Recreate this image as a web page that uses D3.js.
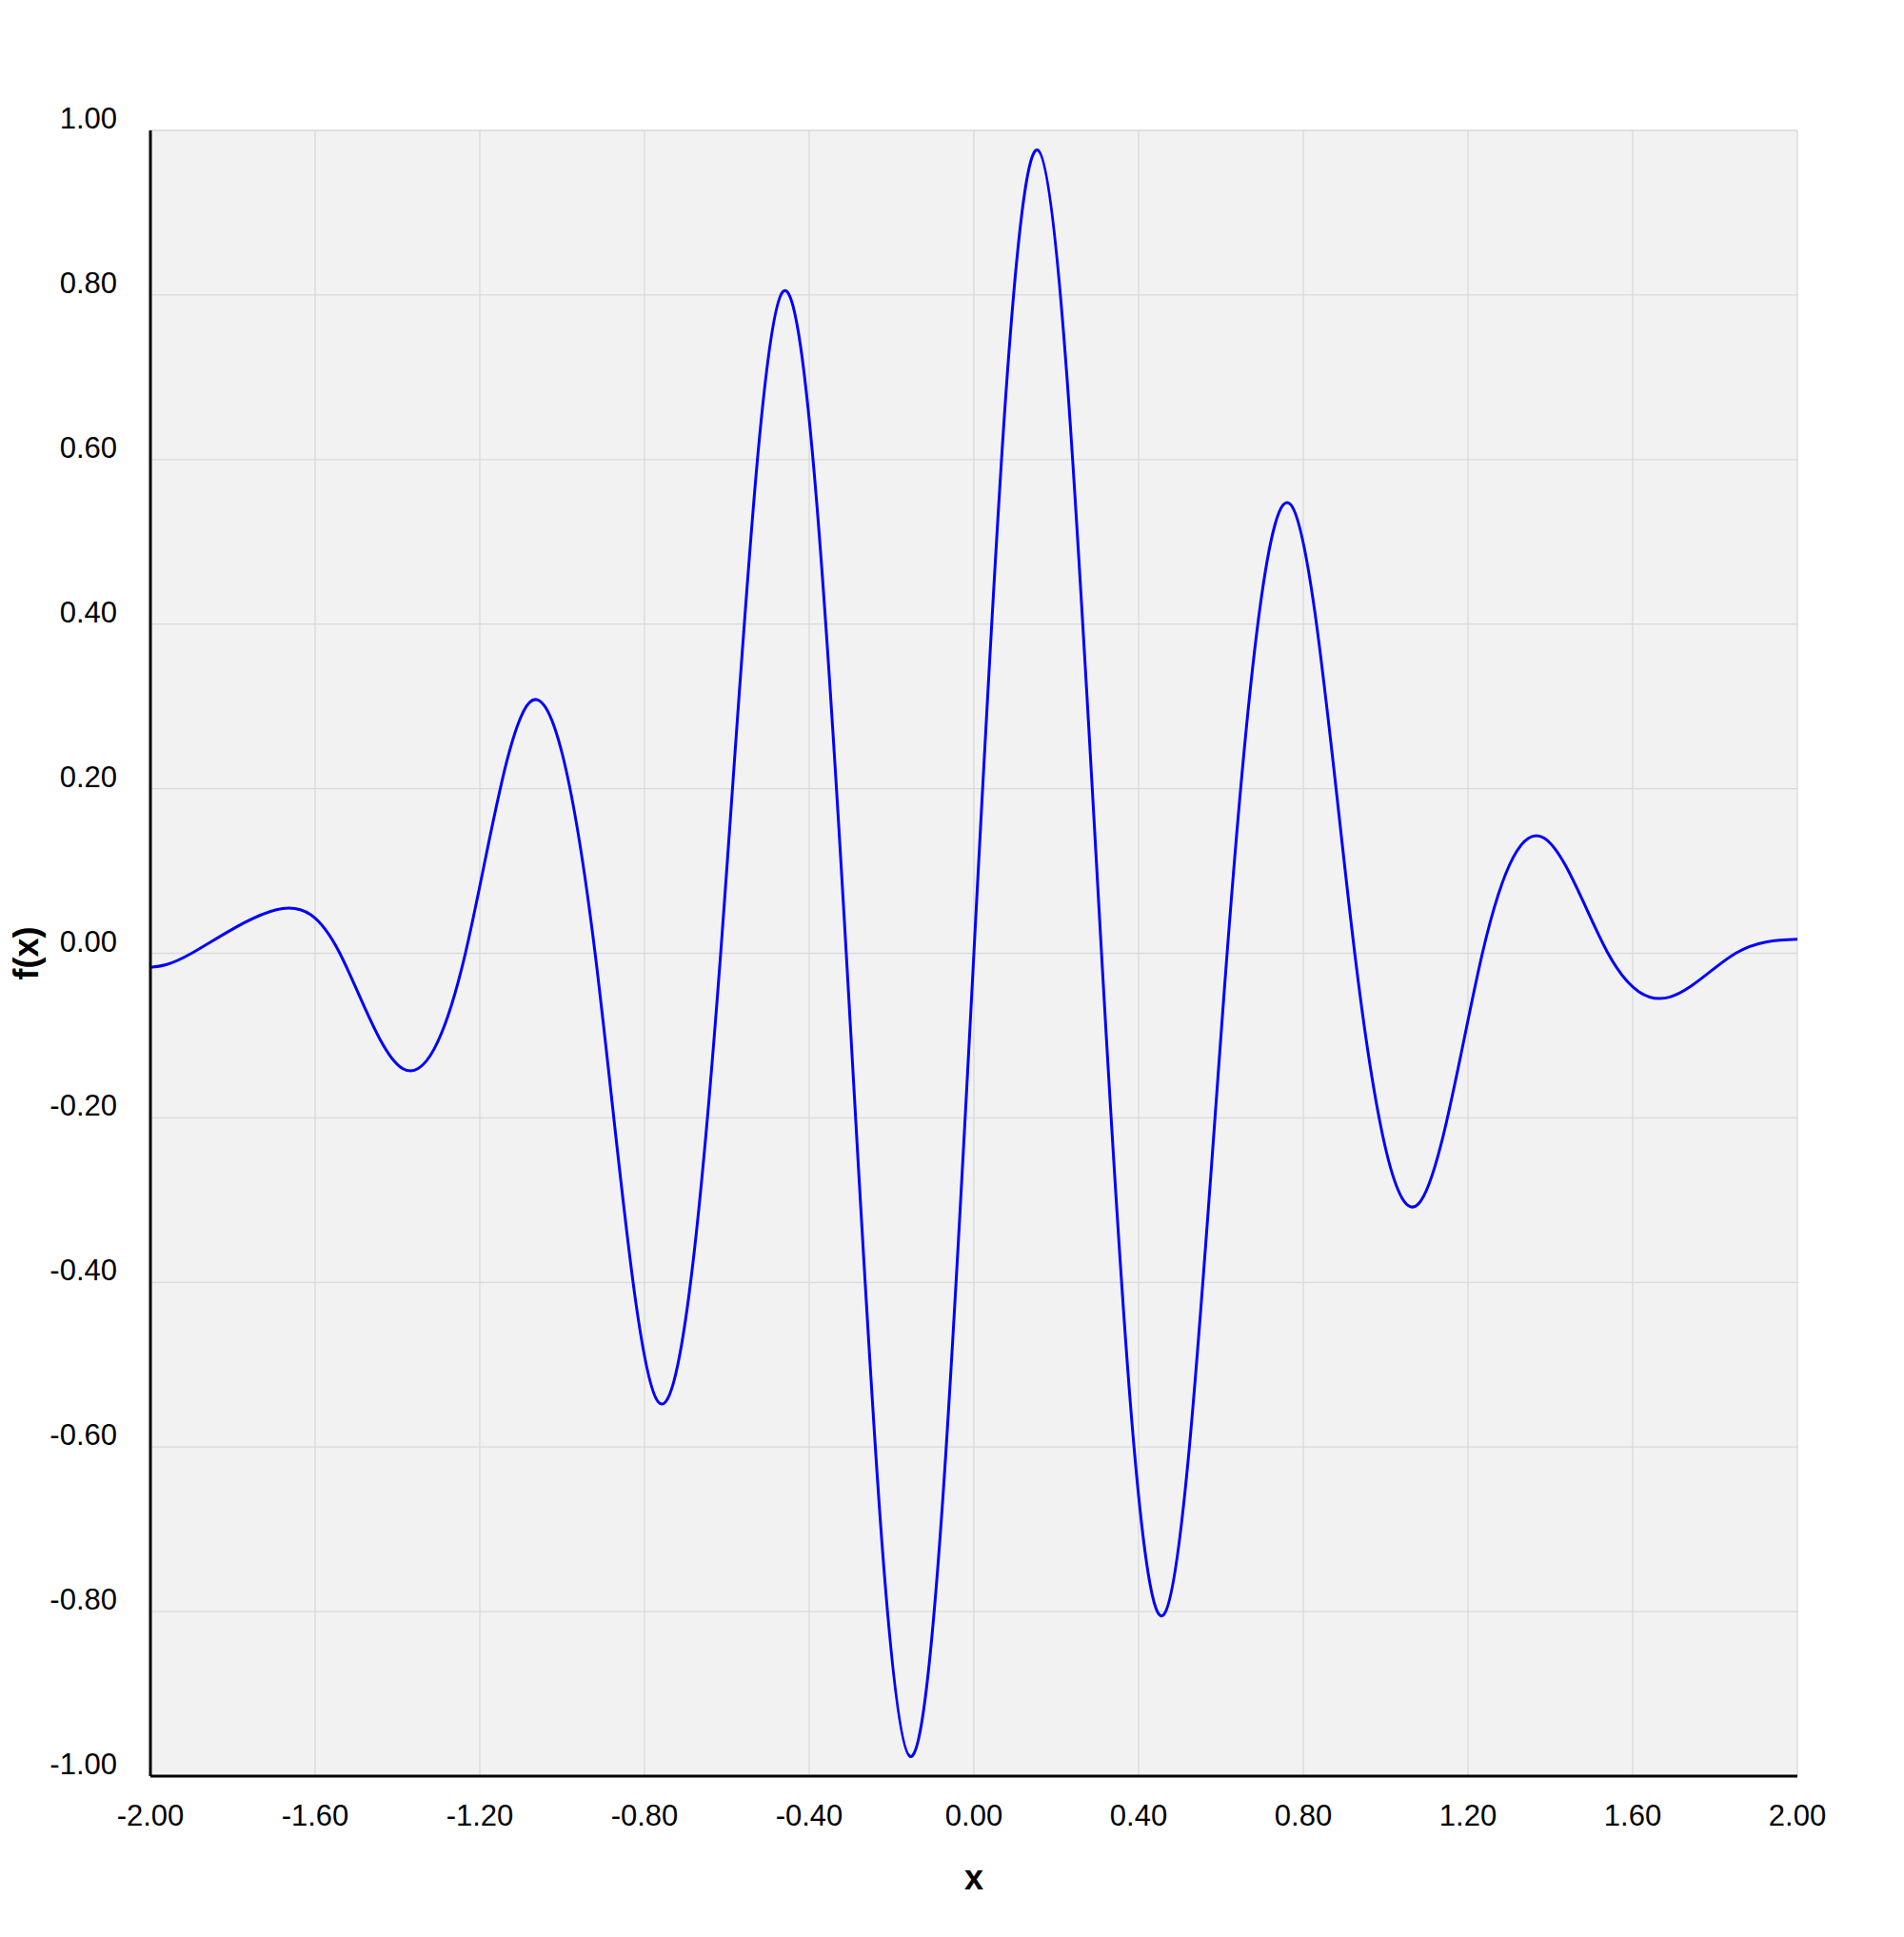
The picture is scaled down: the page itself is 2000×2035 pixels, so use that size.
<!DOCTYPE html>
<html>
<head>
<meta charset="utf-8">
<script src="https://cdn.jsdelivr.net/npm/d3@7"></script>
<style>
  body { margin: 0; background: #fff; }
  text { font-family: "Liberation Sans", Arial, sans-serif; }
</style>
</head>
<body>
<svg id="chart"></svg>
<script>
// points: extrema and zero crossings
const xs = [-2.0, -1.90, -1.694, -1.54, -1.388, -1.235, -1.079, -0.92, -0.767, -0.615, -0.464, -0.31, -0.155, 0.0, 0.155, 0.31, 0.461, 0.615, 0.770, 0.925, 1.079, 1.235, 1.385, 1.54, 1.691, 1.85, 2.0];
const ys = [-0.017, 0.0, 0.053, 0.0, -0.140, 0.0, 0.305, 0.0, -0.545, 0.0, 0.804, 0.0, -0.976, 0.0, 0.976, 0.0, -0.804, 0.0, 0.545, 0.0, -0.305, 0.0, 0.140, 0.0, -0.053, 0.0, 0.017];
const xTicks = [-2, -1.6, -1.2, -0.8, -0.4, 0, 0.4, 0.8, 1.2, 1.6, 2];
const yTicks = [-1, -0.8, -0.6, -0.4, -0.2, 0, 0.2, 0.4, 0.6, 0.8, 1];

const width = 2000, height = 2035;
const margin = { top: 137, right: 112, bottom: 169, left: 158 };
const iw = width - margin.left - margin.right;
const ih = height - margin.top - margin.bottom;

const svg = d3.select('#chart').attr('width', width).attr('height', height);
const g = svg.append('g').attr('transform', `translate(${margin.left},${margin.top})`);

const x = d3.scaleLinear().domain([-2, 2]).range([0, iw]);
const y = d3.scaleLinear().domain([-1, 1]).range([ih, 0]);

g.append('rect').attr('width', iw).attr('height', ih).attr('fill', '#f2f2f2');

g.selectAll('.vg').data(xTicks).enter().append('line')
    .attr('x1', d => x(d)).attr('x2', d => x(d))
    .attr('y1', 0).attr('y2', ih)
    .attr('stroke', '#d9d9d9').attr('stroke-width', 1.3);
g.selectAll('.hg').data(yTicks).enter().append('line')
    .attr('x1', 0).attr('x2', iw)
    .attr('y1', d => y(d)).attr('y2', d => y(d))
    .attr('stroke', '#d9d9d9').attr('stroke-width', 1.3);

const pts = xs.map((v, i) => [v, ys[i]]);
const line = d3.line()
    .x(d => x(d[0])).y(d => y(d[1]))
    .curve(d3.curveNatural);
g.append('path').datum(pts)
    .attr('d', line)
    .attr('fill', 'none')
    .attr('stroke', '#0000ff')
    .attr('stroke-width', 3);

g.append('line').attr('x1', 0).attr('x2', 0).attr('y1', 0).attr('y2', ih)
    .attr('stroke', '#000').attr('stroke-width', 3);
g.append('line').attr('x1', 0).attr('x2', iw).attr('y1', ih).attr('y2', ih)
    .attr('stroke', '#000').attr('stroke-width', 3);

g.selectAll('.yl').data(yTicks).enter().append('text')
    .attr('x', -35).attr('y', d => y(d) - 2)
    .attr('text-anchor', 'end')
    .attr('font-size', 31)
    .text(d => d.toFixed(2));
g.selectAll('.xl').data(xTicks).enter().append('text')
    .attr('x', d => x(d)).attr('y', ih + 52)
    .attr('text-anchor', 'middle')
    .attr('font-size', 31)
    .text(d => d.toFixed(2));

svg.append('text')
    .attr('x', margin.left + iw / 2).attr('y', 1985)
    .attr('text-anchor', 'middle')
    .attr('font-size', 36).attr('font-weight', 'bold')
    .text('x');
svg.append('text')
    .attr('transform', `translate(40,${margin.top + ih / 2}) rotate(-90)`)
    .attr('text-anchor', 'middle')
    .attr('font-size', 36).attr('font-weight', 'bold')
    .text('f(x)');
</script>
</body>
</html>
